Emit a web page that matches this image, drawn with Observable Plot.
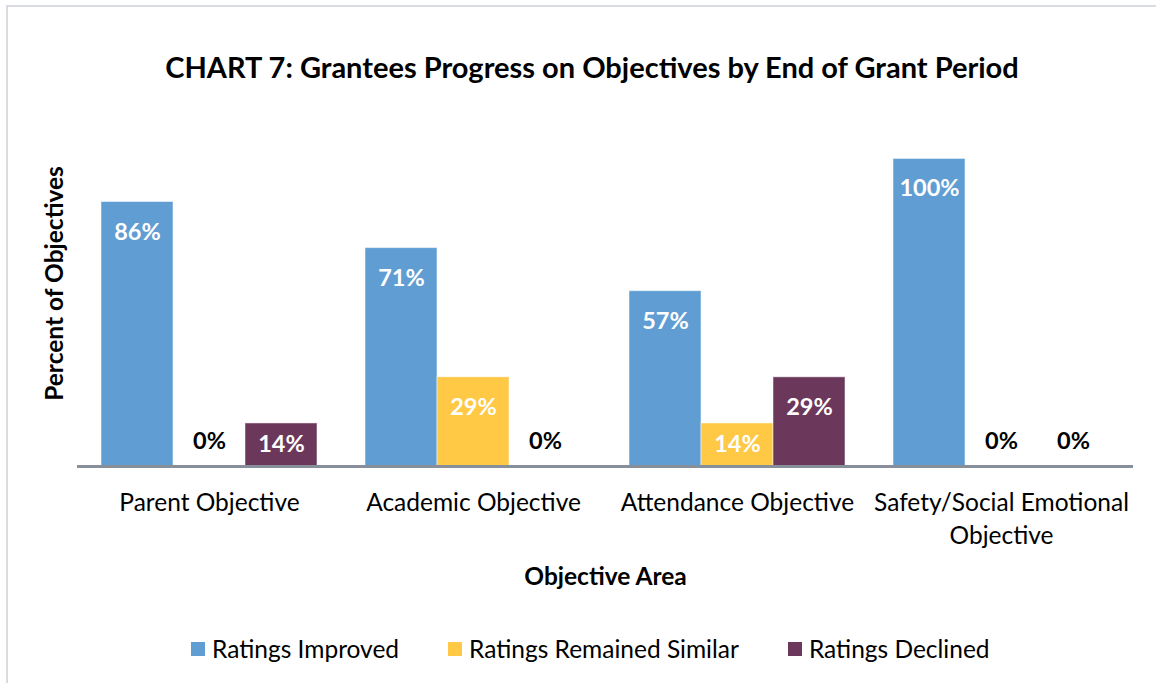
<!DOCTYPE html>
<html><head><meta charset="utf-8">
<script src="https://cdn.jsdelivr.net/npm/d3@7"></script>
<script src="https://cdn.jsdelivr.net/npm/@observablehq/plot@0.6"></script>
<style>
body{margin:0;background:#fff;font-family:Lato,"Open Sans",sans-serif;}
#wrap{position:relative;width:1156px;height:683px;overflow:hidden;background:#fff;}
#frame{position:absolute;left:6px;top:5px;width:1200px;height:720px;border-left:2px solid #d9dde1;border-top:2px solid #d9dde1;}
#title{position:absolute;left:14px;top:50px;width:1156px;text-align:center;font-size:29px;line-height:34px;font-weight:bold;color:#000;}
#chart{position:absolute;left:0;top:100px;}
#chart [aria-label="fx-axis label"] text{font-weight:bold;}
#legend{position:absolute;top:634px;left:191px;display:flex;align-items:center;font-size:24.5px;line-height:30px;color:#000;}
#legend .item{display:flex;align-items:center;margin-right:49px;}
#legend .sw{width:14px;height:14px;margin-right:7px;}
</style>
</head><body>
<div id="wrap">
<div id="frame"></div>
<div id="title"></div>
<div id="chart"></div>
<div id="legend"></div>
</div>
<script>
const titleText = "CHART 7: Grantees Progress on Objectives by End of Grant Period";
const categories = ["Parent Objective", "Academic Objective", "Attendance Objective", "Safety/Social Emotional Objective"];
const tickLabels = ["Parent Objective", "Academic Objective", "Attendance Objective", "Safety/Social Emotional\nObjective"];
const series = ["Ratings Improved", "Ratings Remained Similar", "Ratings Declined"];
const improved = [86, 71, 57, 100];
const similar = [0, 29, 14, 0];
const declined = [14, 0, 29, 0];
const colors = ["#5F9DD3", "#FFC845", "#6B385C"];
const yLabel = "Percent of Objectives";
const xLabel = "Objective Area";

document.getElementById("title").textContent = titleText;

const seriesValues = [improved, similar, declined];
const data = categories.flatMap((c, i) => seriesValues.map((arr, j) => ({category: c, series: series[j], value: arr[i]})));
const labelOf = d => d.value + "%";

const chart = Plot.plot({
  width: 1156,
  height: 500,
  marginLeft: 77,
  marginRight: 23,
  marginTop: 0,
  marginBottom: 134,
  style: {fontFamily: "Lato, 'Open Sans', sans-serif", color: "#000", background: "transparent"},
  fx: {domain: categories, padding: 0},
  x: {domain: series, paddingInner: 0, paddingOuter: 1/3, axis: null},
  y: {domain: [0, 119], axis: null},
  color: {domain: series, range: colors},
  marks: [
    Plot.barY(data, {fx: "category", x: "series", y: "value", fill: "series", stroke: "#ffffff", strokeOpacity: 0.5, strokeWidth: 1}),
    Plot.ruleY([0], {stroke: "#878f9a", strokeWidth: 3}),
    Plot.text(data.filter(d => d.value >= 20), {fx: "category", x: "series", y: "value", dy: 30, text: labelOf, fill: "white", fontWeight: "bold", fontSize: 23.5}),
    Plot.text(data.filter(d => d.value > 0 && d.value < 20), {fx: "category", x: "series", y: d => d.value / 2, dy: -1, text: labelOf, fill: "white", fontWeight: "bold", fontSize: 23.5}),
    Plot.text(data.filter(d => d.value === 0), {fx: "category", x: "series", y: "value", dy: -25, text: labelOf, fill: "black", fontWeight: "bold", fontSize: 23.5}),
    Plot.text([yLabel], {frameAnchor: "left", facetAnchor: "left", rotate: -90, textAnchor: "middle", dx: -22, text: d => d, fontWeight: "bold", fontSize: 24.5, fill: "black"}),
    Plot.axisFx({anchor: "bottom", tickSize: 0, tickPadding: 21, fontSize: 24.5, lineHeight: 1.34,
      tickFormat: d => tickLabels[categories.indexOf(d)], label: xLabel, labelAnchor: "center", labelOffset: 118})
  ]
});
document.getElementById("chart").appendChild(chart);

const legend = document.getElementById("legend");
series.forEach((s, i) => {
  const item = document.createElement("div");
  item.className = "item";
  const sw = document.createElement("span");
  sw.className = "sw";
  sw.style.background = colors[i];
  const t = document.createElement("span");
  t.textContent = s;
  item.appendChild(sw); item.appendChild(t);
  legend.appendChild(item);
});
</script>
</body></html>
